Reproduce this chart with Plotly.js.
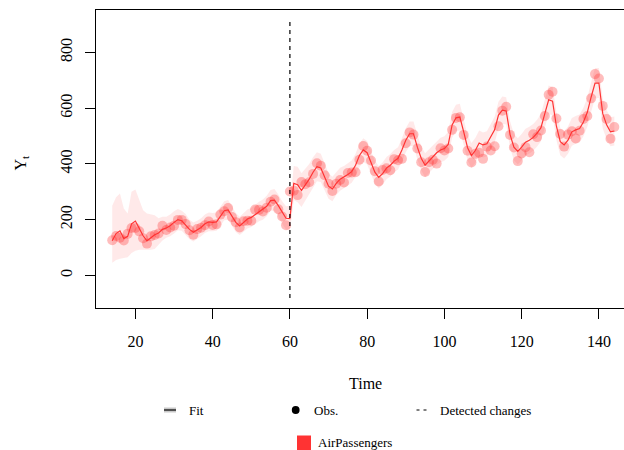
<!DOCTYPE html>
<html>
<head>
<meta charset="utf-8">
<script src="https://cdn.plot.ly/plotly-3.0.1.min.js"></script>
<style>html,body{margin:0;padding:0;background:#fff;}#chart{width:624px;height:450px;}</style>
</head>
<body>
<div id="chart"></div>
<script>
// ---- data ----
const time = [14,15,16,17,18,19,20,21,22,23,24,
25,26,27,28,29,30,31,32,33,34,35,36,
37,38,39,40,41,42,43,44,45,46,47,48,
49,50,51,52,53,54,55,56,57,58,59,60,
61,62,63,64,65,66,67,68,69,70,71,72,
73,74,75,76,77,78,79,80,81,82,83,84,
85,86,87,88,89,90,91,92,93,94,95,96,
97,98,99,100,101,102,103,104,105,106,107,108,
109,110,111,112,113,114,115,116,117,118,119,120,
121,122,123,124,125,126,127,128,129,130,131,132,
133,134,135,136,137,138,139,140,141,142,143,144];

const obs = [126,141,135,125,149,170,170,158,133,114,140,
145,150,178,163,172,178,199,199,184,162,146,166,
171,180,193,181,183,218,230,242,209,191,172,194,
196,196,236,235,229,243,264,272,237,211,180,301,
304,288,335,327,334,364,402,393,359,329,303,329,
342,333,367,369,370,415,464,447,412,374,337,378,
384,377,417,413,418,474,513,505,455,406,371,406,
415,401,456,448,455,522,565,567,504,447,405,436,
440,418,462,448,463,535,591,605,504,459,410,437,
460,442,506,496,520,572,648,659,563,507,462,505,
517,491,519,561,572,635,722,706,608,561,490,532];

const fit = [124,150,160,132,140,185,195,168,142,124,135,
146,152,165,170,178,190,200,196,182,165,155,162,
172,185,192,190,192,212,232,235,212,190,177,190,
202,208,218,228,235,248,268,270,250,225,205,204,
330,325,305,325,345,370,390,385,350,320,310,330,
345,352,362,372,395,430,450,440,405,370,352,365,
385,395,410,420,450,485,508,508,460,420,395,410,
425,440,450,455,470,540,565,568,515,458,430,448,
475,468,472,495,522,575,593,590,505,460,445,460,
478,485,495,510,530,580,630,625,535,480,468,485,
515,522,527,550,585,640,690,690,580,540,515,518];

const ciLower = [45,55,60,62,65,80,88,92,92,90,92,
95,110,125,135,140,150,162,160,145,130,122,130,
140,152,158,158,160,178,198,200,178,156,145,156,
168,174,184,194,200,212,232,232,212,185,165,160,
270,262,245,268,290,318,338,335,302,275,266,288,
304,312,322,332,354,388,408,398,364,330,312,325,
345,355,370,380,408,442,464,464,416,377,352,368,
382,397,406,411,425,494,518,520,468,412,385,403,
430,423,427,449,475,527,544,541,457,413,398,413,
430,437,447,462,481,530,579,574,485,431,419,436,
465,472,477,499,533,587,636,636,527,488,463,466];

const ciUpper = [250,280,294,240,222,300,308,270,234,222,218,
216,205,210,210,218,230,238,232,220,200,190,196,
205,218,226,224,226,246,266,270,246,224,210,224,
236,242,254,264,272,286,306,310,290,266,248,250,
392,390,366,384,400,424,442,436,398,366,354,372,
386,392,402,412,436,472,492,482,446,410,392,405,
425,435,450,460,492,528,552,552,504,463,438,452,
468,483,494,499,515,586,612,616,562,504,475,493,
520,513,517,541,569,623,642,639,553,507,492,507,
526,533,543,558,579,630,681,676,585,529,517,534,
565,572,577,601,637,693,744,744,633,592,567,570];

const changeTimes = [60];
const xTicks = [20,40,60,80,100,120,140];
const yTicks = [0,200,400,600,800];
const seriesName = "AirPassengers";
const legendLabels = ["Fit", "Obs.", "Detected changes"];

// ---- layout helpers (pixel -> paper) ----
const W = 624, H = 450, ML = 96, MT = 10, MR = 0, MB = 142;
const px = x => (x - ML) / (W - ML - MR);
const py = y => (H - MB - y) / (H - MT - MB);
const RED = "rgb(255,51,51)";
const FONT = "Liberation Serif";

const traces = [
  {x: time, y: ciUpper, mode: "lines", line: {width: 0, color: "rgba(0,0,0,0)"}, hoverinfo: "skip", showlegend: false},
  {x: time, y: ciLower, mode: "lines", line: {width: 0, color: "rgba(0,0,0,0)"}, fill: "tonexty", fillcolor: "rgba(255,51,51,0.11)", hoverinfo: "skip", showlegend: false},
  {x: time, y: obs, mode: "markers", marker: {size: 10, color: "rgba(255,51,51,0.32)", line: {width: 0}}, showlegend: false},
  {x: time, y: fit, mode: "lines", line: {color: RED, width: 1.2}, showlegend: false}
];

const shapes = changeTimes.map(c => ({
  type: "line", xref: "x", yref: "y", x0: c, x1: c, y0: -81, y1: 909,
  line: {color: "black", width: 1.2, dash: "4px,4px"}
}));

// legend icons
shapes.push({type: "rect", xref: "paper", yref: "paper", x0: px(164), x1: px(176), y0: py(412.5), y1: py(407.5), fillcolor: "rgb(200,200,200)", line: {width: 0}});
shapes.push({type: "line", xref: "paper", yref: "paper", x0: px(164), x1: px(176), y0: py(410), y1: py(410), line: {color: "rgb(40,40,40)", width: 1.5}});
shapes.push({type: "circle", xref: "paper", yref: "paper", x0: px(291.8), x1: px(299.6), y0: py(413.9), y1: py(406.1), fillcolor: "black", line: {width: 0}});
shapes.push({type: "line", xref: "paper", yref: "paper", x0: px(416.5), x1: px(427), y0: py(410), y1: py(410), line: {color: "black", width: 1, dash: "3px,4px"}});
shapes.push({type: "rect", xref: "paper", yref: "paper", x0: px(297), x1: px(311), y0: py(450), y1: py(435.5), fillcolor: RED, line: {width: 0}});

const annotations = [
  {text: "Time", xref: "paper", yref: "paper", x: px(365), y: py(383), xanchor: "center", yanchor: "middle", showarrow: false, font: {family: FONT, size: 16, color: "black"}},
  {text: "Y<sub>t</sub>", xref: "paper", yref: "paper", x: px(20.5), y: py(163), xanchor: "center", yanchor: "middle", textangle: -90, showarrow: false, font: {family: FONT, size: 16, color: "black"}},
  {text: legendLabels[0], xref: "paper", yref: "paper", x: px(186.5), y: py(410), xanchor: "left", yanchor: "middle", showarrow: false, font: {family: FONT, size: 13, color: "black"}},
  {text: legendLabels[1], xref: "paper", yref: "paper", x: px(312), y: py(410), xanchor: "left", yanchor: "middle", showarrow: false, font: {family: FONT, size: 13, color: "black"}},
  {text: legendLabels[2], xref: "paper", yref: "paper", x: px(438), y: py(410), xanchor: "left", yanchor: "middle", showarrow: false, font: {family: FONT, size: 13, color: "black"}},
  {text: seriesName, xref: "paper", yref: "paper", x: px(315.5), y: py(442.5), xanchor: "left", yanchor: "middle", showarrow: false, font: {family: FONT, size: 13, color: "black"}}
];

const layout = {
  width: W, height: H,
  margin: {l: ML, r: MR, t: MT, b: MB, pad: 0},
  paper_bgcolor: "white", plot_bgcolor: "white",
  showlegend: false,
  font: {family: FONT, size: 16, color: "black"},
  xaxis: {range: [9.8, 146.5], tickvals: xTicks, ticktext: xTicks.map(String), ticks: "outside", ticklen: 10, tickwidth: 1, tickcolor: "black",
          ticklabelstandoff: 9,
          showline: true, linecolor: "black", linewidth: 1, mirror: true, showgrid: false, zeroline: false,
          tickfont: {family: FONT, size: 16, color: "black"}},
  yaxis: {range: [-117, 952], tickvals: yTicks, ticktext: yTicks.map(String), ticks: "outside", ticklen: 10, tickwidth: 1, tickcolor: "black",
          ticklabelstandoff: 7,
          showline: true, linecolor: "black", linewidth: 1, mirror: false, showgrid: false, zeroline: false, tickangle: -90,
          tickfont: {family: FONT, size: 16, color: "black"}},
  shapes: shapes,
  annotations: annotations
};

Plotly.newPlot("chart", traces, layout, {displayModeBar: false, staticPlot: true});
</script>
</body>
</html>
